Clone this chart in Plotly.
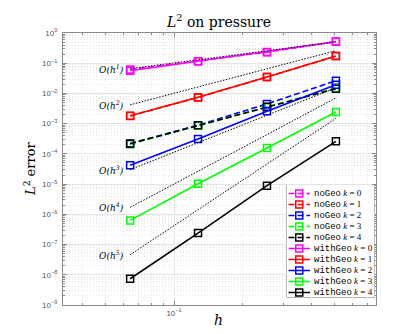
import plotly.graph_objects as go
import math

# ---------------- data ----------------
h = [0.0643, 0.1273, 0.2546, 0.5093]

no_geo_k0 = [0.062, 0.117, 0.232, 0.52]
no_geo_k1 = [0.0018, 0.0074, 0.035, 0.172]
no_geo_k2 = [2.2e-4, 8.9e-4, 4.5e-3, 0.0264]
no_geo_k3 = [2.1e-4, 8.6e-4, 3.5e-3, 0.0150]
no_geo_k4 = [2.17e-4, 8.8e-4, 3.6e-3, 0.0143]

with_geo_k0 = [0.0565, 0.116, 0.235, 0.515]
with_geo_k1 = [0.00183, 0.00745, 0.035, 0.173]
with_geo_k2 = [4.2e-5, 3.1e-4, 2.57e-3, 0.0195]
with_geo_k3 = [6.3e-7, 1.03e-5, 1.57e-4, 2.43e-3]
with_geo_k4 = [7.4e-9, 2.4e-7, 8.9e-6, 2.6e-4]

# reference slope lines: order, value at first h, value at last h
ref_orders = [1, 2, 3, 4, 5]
ref_start = [0.066, 4.2e-3, 3.0e-5, 1.7e-6, 4.6e-8]
ref_end = [0.515, 0.26, 0.0154, 7.1e-3, 1.5e-3]
ref_labels = ["O(h<sup>1</sup>)", "O(h<sup>2</sup>)", "O(h<sup>3</sup>)",
              "O(h<sup>4</sup>)", "O(h<sup>5</sup>)"]

colors = ["#ff00ff", "#ff0000", "#0000ff", "#00ff00", "#000000"]
k_values = [0, 1, 2, 3, 4]

y_tick_exps = [-9, -8, -7, -6, -5, -4, -3, -2, -1, 0]
x_tick_vals = [0.1]
x_tick_text = ["10<sup>\u22121</sup>"]

no_geo = [no_geo_k0, no_geo_k1, no_geo_k2, no_geo_k3, no_geo_k4]
with_geo = [with_geo_k0, with_geo_k1, with_geo_k2, with_geo_k3, with_geo_k4]

# ---------------- figure ----------------
fig = go.Figure()
DASH = "6px,3px"
for c, ys in zip(colors, no_geo):
    fig.add_trace(go.Scatter(x=h, y=ys, mode="lines+markers",
                             line=dict(color=c, width=1.6, dash=DASH),
                             marker=dict(symbol="square-open", size=7,
                                         color=c, line=dict(width=1.5, color=c)),
                             showlegend=False, xaxis="x", yaxis="y"))
for c, ys in zip(colors, with_geo):
    fig.add_trace(go.Scatter(x=h, y=ys, mode="lines+markers",
                             line=dict(color=c, width=1.6),
                             marker=dict(symbol="square-open", size=7,
                                         color=c, line=dict(width=1.5, color=c)),
                             showlegend=False, xaxis="x", yaxis="y"))
for p, s, e, lab in zip(ref_orders, ref_start, ref_end, ref_labels):
    fig.add_trace(go.Scatter(x=[h[0], h[-1]], y=[s, e], mode="lines",
                             line=dict(color="#000000", width=1, dash="1.5px,1.5px"),
                             showlegend=False, hoverinfo="skip"))
    fig.add_annotation(x=math.log10(h[0]), y=math.log10(s), xref="x", yref="y",
                       text="<i>" + lab.replace("h", "</i><i>h") + "</i>",
                       showarrow=False, xanchor="right", yanchor="middle",
                       xshift=-4, font=dict(family="DejaVu Serif", size=9, color="#000"))

# ---------------- custom compact legend ----------------
legend_rows = []
for k in k_values:
    legend_rows.append(("noGeo", k, colors[k], DASH))
for k in k_values:
    legend_rows.append(("withGeo", k, colors[k], None))

for i, (name, k, c, dash) in enumerate(legend_rows):
    fig.add_trace(go.Scatter(x=[1.5, 23], y=[i, i], mode="lines",
                             line=dict(color=c, width=1.6, dash=dash if dash else "solid"),
                             showlegend=False, hoverinfo="skip",
                             xaxis="x2", yaxis="y2"))
    fig.add_trace(go.Scatter(x=[12.2], y=[i], mode="markers",
                             marker=dict(symbol="square-open", size=7, color=c,
                                         line=dict(width=1.5, color=c)),
                             showlegend=False, hoverinfo="skip",
                             xaxis="x2", yaxis="y2"))
    fig.add_annotation(x=24.5, y=i, xref="x2", yref="y2", showarrow=False,
                       xanchor="left", yanchor="middle",
                       text='<span style="font-family:Liberation Mono">' + name +
                            '</span> <i>k</i> = ' + str(k),
                       font=dict(family="Liberation Serif", size=9, color="#000"))

fig.add_shape(type="rect", xref="x2 domain", yref="y2 domain", x0=0, x1=1, y0=0, y1=1,
              fillcolor="white", line=dict(color="#7a7a7a", width=1), layer="below")

AX = "#8a8a8a"
TICKFONT = dict(family="Liberation Sans", size=8, color="#555555")

y_minor = [m * 10.0 ** e for e in range(-9, 0) for m in range(2, 10)]
x_minor = [0.04, 0.05, 0.06, 0.07, 0.08, 0.09, 0.2, 0.3, 0.4, 0.5, 0.6, 0.7]

fig.update_layout(
    width=407, height=334,
    margin=dict(l=55, r=39, t=25, b=37),
    paper_bgcolor="white", plot_bgcolor="white",
    showlegend=False,
    title=dict(text="<i>L</i><sup>2</sup> on pressure", x=211 / 407, xanchor="center",
               y=1 - 14 / 334, yanchor="middle",
               font=dict(family="DejaVu Serif", size=14, color="#000")),
    xaxis=dict(type="log", range=[-1.485, -0.118], showline=True, linecolor=AX,
               mirror="ticks", ticks="inside", ticklen=4, tickcolor=AX,
               tickvals=x_tick_vals, ticktext=x_tick_text, tickfont=TICKFONT,
               showgrid=True, gridcolor="#e4e4e4", gridwidth=1, zeroline=False,
               minor=dict(tickvals=x_minor, ticks="inside", ticklen=2, tickcolor=AX,
                          showgrid=True, gridcolor="#e6e6e6", griddash="1px,2px")),
    yaxis=dict(type="log", range=[-9, 0], showline=True, linecolor=AX,
               mirror="ticks", ticks="inside", ticklen=4, tickcolor=AX,
               tickvals=[10.0 ** e for e in y_tick_exps],
               ticktext=["10<sup>" + (str(e) if e >= 0 else "\u2212" + str(-e)) + "</sup>"
                         for e in y_tick_exps],
               tickfont=TICKFONT, ticklabelstandoff=3,
               showgrid=True, gridcolor="#e4e4e4", gridwidth=1, zeroline=False,
               minor=dict(tickvals=y_minor, ticks="inside", ticklen=2, tickcolor=AX,
                          showgrid=True, gridcolor="#e6e6e6", griddash="1px,2px")),
    xaxis2=dict(domain=[0.7157, 0.995], range=[0, 87.2], visible=False,
                anchor="y2", fixedrange=True),
    yaxis2=dict(domain=[0.0283, 0.441], range=[9.44, -0.77], visible=False,
                anchor="x2", fixedrange=True),
)

fig.add_annotation(x=(22 - 55) / 313, y=0.5, xref="paper", yref="paper",
                   xanchor="center", yanchor="middle",
                   text="<i>L</i><sup>2</sup> error", textangle=-90, showarrow=False,
                   font=dict(family="DejaVu Serif", size=13, color="#000"))
fig.add_annotation(x=(210 - 55) / 313, y=-(312 - 297) / 272, xref="paper", yref="paper",
                   xanchor="center", yanchor="middle",
                   text="<i>h</i>", showarrow=False,
                   font=dict(family="DejaVu Serif", size=14, color="#000"))

fig.write_html("out.html")
